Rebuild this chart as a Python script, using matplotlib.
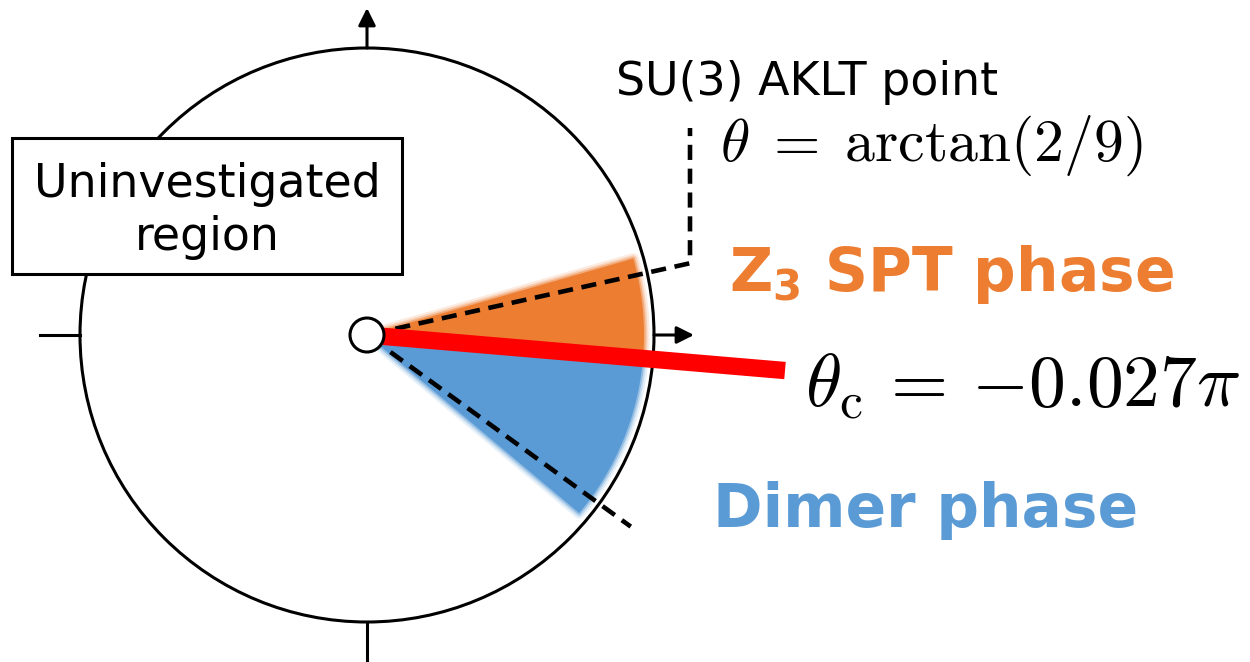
import numpy as np
import matplotlib
matplotlib.use("Agg")
import matplotlib.pyplot as plt
from matplotlib.patches import Circle, Wedge, Rectangle

# ── phase boundaries (degrees, measured counter-clockwise from +x) ─────────────
THETA_C = -0.027 * 180.0               # critical point, theta_c = -0.027 pi
THETA_AKLT = np.degrees(np.arctan(2 / 9))  # SU(3) AKLT point
THETA_LOWER_DASH = -36.0               # lower dashed guide
SPT_RANGE = [THETA_C, 16.0]            # orange wedge
DIMER_RANGE = [-40.0, THETA_C]         # blue wedge

PHASE_NAMES = ["SPT", "Dimer"]
PHASE_COLORS = ["#ED7D31", "#5B9BD5"]

LABEL_AKLT = "SU(3) AKLT point"
LABEL_AKLT_MATH = r"$\theta\;=\;\mathrm{arctan}(2/9)$"
LABEL_THETA_C = r"$\theta_{\mathrm{c}}\,=\,{-0.027\pi}$"
LABEL_SPT = r"$\mathbf{Z}_{\mathbf{3}}$ SPT phase"
LABEL_DIMER = "Dimer phase"
LABEL_BOX = "Uninvestigated\nregion"

# ── layout (pixel units, y grows downward) ─────────────────────────────────────
W, H = 1250, 662
CX, CY = 367, 335
R = 287
R_WEDGE = 277
R_DOT = 17


def pt(r, ang):
    a = np.radians(ang)
    return CX + r * np.cos(a), CY - r * np.sin(a)


def soft_wedge(ax, a1, a2, color):
    # screen angles -> data angles (y axis is inverted)
    ax.add_patch(Wedge((CX, CY), R_WEDGE, -a2, -a1, facecolor=color,
                       edgecolor="none", zorder=1))
    for lw, alpha in [(8, 0.15), (5, 0.25), (2.5, 0.45)]:
        ax.add_patch(Wedge((CX, CY), R_WEDGE, -a2, -a1, facecolor="none",
                           edgecolor=color, lw=lw, alpha=alpha, zorder=1,
                           joinstyle="round"))


fig = plt.figure(figsize=(W / 100, H / 100), dpi=100)
ax = fig.add_axes([0, 0, 1, 1])
ax.set_xlim(0, W)
ax.set_ylim(H, 0)
ax.axis("off")

# phase wedges
soft_wedge(ax, SPT_RANGE[0], SPT_RANGE[1], PHASE_COLORS[0])
soft_wedge(ax, DIMER_RANGE[0], DIMER_RANGE[1], PHASE_COLORS[1])

# big circle and axis ticks
ax.add_patch(Circle((CX, CY), R, facecolor="none", edgecolor="black",
                    lw=2.2, zorder=2))
arrow = dict(arrowstyle="-|>", lw=2.2, color="black", mutation_scale=26,
             shrinkA=0, shrinkB=0)
ax.annotate("", xy=(CX, 8), xytext=(CX, CY - R), arrowprops=arrow)
ax.annotate("", xy=(694, CY), xytext=(CX + R, CY), arrowprops=arrow)
ax.plot([CX, CX], [CY + R, H], color="black", lw=2.2)
ax.plot([40, CX - R], [CY, CY], color="black", lw=2.2)

# dashed guides
dash = (0, (3.3, 1.9))
x0, y0 = pt(29, THETA_AKLT)
corner_x = 690
corner_y = CY - (corner_x - CX) * np.tan(np.radians(THETA_AKLT))
ax.plot([x0, corner_x, corner_x], [y0, corner_y, 128], color="black",
        lw=3.3, linestyle=dash, zorder=3)
x1, y1 = pt(29, THETA_LOWER_DASH)
x2, y2 = pt(326, THETA_LOWER_DASH)
ax.plot([x1, x2], [y1, y2], color="black", lw=3.3, linestyle=dash, zorder=3)

# critical line
xr = 785
yr = CY - (xr - CX) * np.tan(np.radians(THETA_C))
ax.plot([CX, xr], [CY, yr], color="#FF0000", lw=12.5, solid_capstyle="butt",
        zorder=4)

# origin marker
ax.add_patch(Circle((CX, CY), R_DOT, facecolor="white", edgecolor="black",
                    lw=2.2, zorder=5))

# box
ax.add_patch(Rectangle((12, 138), 390, 136, facecolor="white",
                       edgecolor="black", lw=2.2, zorder=5))
ax.text(207, 211, LABEL_BOX, fontsize=33, ha="center", va="center",
        linespacing=1.25, zorder=6)

# labels
ax.text(616, 95, LABEL_AKLT, fontsize=33, ha="left", va="baseline")
ax.text(720, 161, LABEL_AKLT_MATH, fontsize=43, ha="left", va="baseline",
        math_fontfamily="cm")
ax.text(805, 406, LABEL_THETA_C, fontsize=53, ha="left", va="baseline",
        math_fontfamily="cm")
ax.text(729, 291, LABEL_SPT, fontsize=43, ha="left", va="baseline",
        fontweight="bold", color=PHASE_COLORS[0],
        math_fontfamily="dejavusans")
ax.text(713, 527, LABEL_DIMER, fontsize=43, ha="left", va="baseline",
        fontweight="bold", color=PHASE_COLORS[1])

fig.savefig("out.png", dpi=100)
